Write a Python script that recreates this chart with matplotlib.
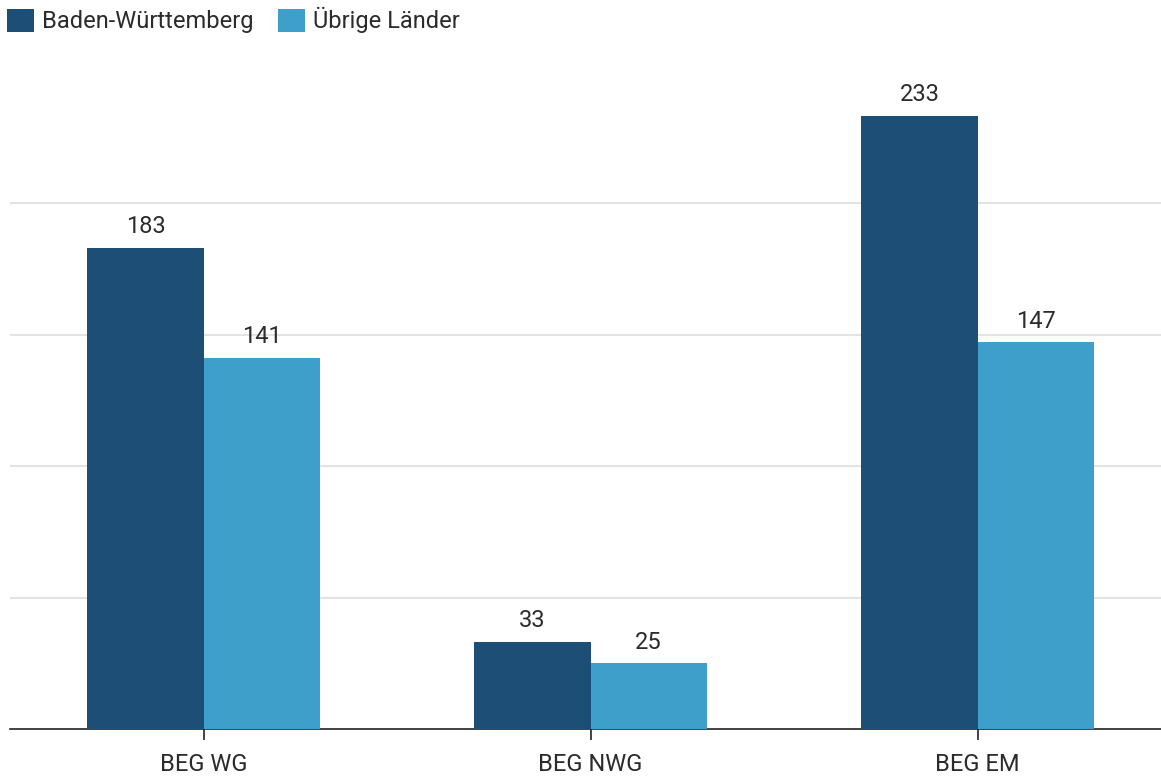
import matplotlib.pyplot as plt
import numpy as np

categories = ["BEG WG", "BEG NWG", "BEG EM"]
bw = [183, 33, 233]
uebrige = [141, 25, 147]
series_names = ["Baden-Württemberg", "Übrige Länder"]
colors = ["#1d4f76", "#3e9fcb"]

plt.rcParams['font.family'] = ['Roboto', 'DejaVu Sans']
txt = "#2b2b2b"

fig = plt.figure(figsize=(11.61, 7.76), dpi=100)
W, H = 1161, 776
ax = fig.add_axes([10 / W, (H - 729) / H, 1151 / W, 657.5 / H])

x = np.arange(len(categories))
width = 0.3
b1 = ax.bar(x - width / 2, bw, width, color=colors[0], label=series_names[0], zorder=3)
b2 = ax.bar(x + width / 2, uebrige, width, color=colors[1], label=series_names[1], zorder=3)
ax.bar_label(b1, padding=7, fontsize=17, color=txt)
ax.bar_label(b2, padding=7, fontsize=17, color=txt)

ax.set_xlim(-0.5, -0.5 + 1151 / 387)
ax.set_ylim(0, 250)
ax.set_yticks([50, 100, 150, 200])
ax.yaxis.grid(True, color="#e3e3e3", linewidth=1.5, zorder=0)
ax.tick_params(axis="y", length=0, labelleft=False)
ax.set_xticks(x)
ax.set_xticklabels(categories, fontsize=17, color=txt)
ax.tick_params(axis="x", length=8, width=1.2, color="#222222", pad=9)
for s in ["top", "right", "left"]:
    ax.spines[s].set_visible(False)
ax.spines["bottom"].set_color("#222222")
ax.spines["bottom"].set_linewidth(1.2)

fig.legend(loc="upper left", bbox_to_anchor=(0.0, 1.0), ncol=2, frameon=False,
           fontsize=17, handlelength=1.15, handleheight=1.15, handletextpad=0.35,
           columnspacing=1.0, borderaxespad=0.1, borderpad=0.2, labelcolor=txt)

fig.savefig("out.png", dpi=100)
